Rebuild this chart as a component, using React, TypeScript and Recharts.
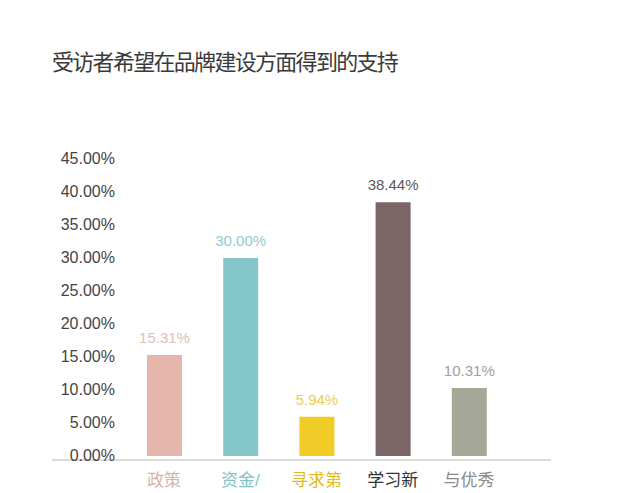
import { BarChart, Bar, XAxis, YAxis, Cell, LabelList } from 'recharts';

const categories = ['政策', '资金/', '寻求第', '学习新', '与优秀'];
const shares = [15.31, 30.0, 5.94, 38.44, 10.31];
const yTicks = [0, 5, 10, 15, 20, 25, 30, 35, 40, 45];

const barColors = ['#e4b6ac', '#85c6cb', '#f1cb26', '#7b6567', '#a6a897'];
const valueColors = ['#dcc0b9', '#8fcbcf', '#e9d053', '#5a5a5a', '#a0a0a0'];
const labelColors = ['#d9b2a9', '#7fc3c8', '#e3bb1f', '#333333', '#8a8a8a'];

const FONT = '"Liberation Sans", Arial, "Noto Sans CJK SC", sans-serif';

const data = categories.map((name, i) => ({ name, value: shares[i] }));

const YTick = (props: any) => {
  const { y, payload } = props;
  return (
    <text x={115} y={y} dy={5} textAnchor="end" fill="#444" fontSize={16} fontFamily={FONT}>
      {Number(payload.value).toFixed(2)}%
    </text>
  );
};

const XTick = (props: any) => {
  const { x, y, payload, index } = props;
  return (
    <text x={x} y={y} dy={18} textAnchor="middle" fill={labelColors[index]} fontSize={17} fontFamily={FONT}>
      {payload.value}
    </text>
  );
};

const ValueLabel = (props: any) => {
  const { x, y, width, value, index } = props;
  return (
    <text x={x + width / 2} y={y - 12} textAnchor="middle" fill={valueColors[index]} fontSize={15} fontFamily={FONT}>
      {value.toFixed(2)}%
    </text>
  );
};

export default function App() {
  return (
    <div style={{ position: 'absolute', left: 0, top: 0, width: 640, height: 493, background: '#fff' }}>
      <div
        style={{
          position: 'absolute',
          left: 52,
          top: 45,
          fontSize: 22,
          letterSpacing: -1.7,
          color: '#3a3a3a',
          fontFamily: '"Noto Sans CJK SC", sans-serif',
          lineHeight: '30px',
          whiteSpace: 'nowrap',
        }}
      >
        受访者希望在品牌建设方面得到的支持
      </div>
      <BarChart width={640} height={493} data={data} margin={{ top: 159, right: 89, bottom: 0, left: 51 }}>
        <XAxis
          dataKey="name"
          height={33}
          tickLine={false}
          axisLine={{ stroke: '#cfcfcf', strokeWidth: 1.5 }}
          padding={{ left: 74, right: 44 }}
          tick={<XTick />}
          interval={0}
        />
        <YAxis
          width={1}
          domain={[0, 45]}
          ticks={yTicks}
          padding={{ top: 0, bottom: 4 }}
          axisLine={false}
          tickLine={false}
          tick={<YTick />}
          interval={0}
        />
        <Bar dataKey="value" barSize={35} isAnimationActive={false}>
          {data.map((d, i) => (
            <Cell key={d.name} fill={barColors[i]} />
          ))}
          <LabelList dataKey="value" content={<ValueLabel />} />
        </Bar>
      </BarChart>
    </div>
  );
}
